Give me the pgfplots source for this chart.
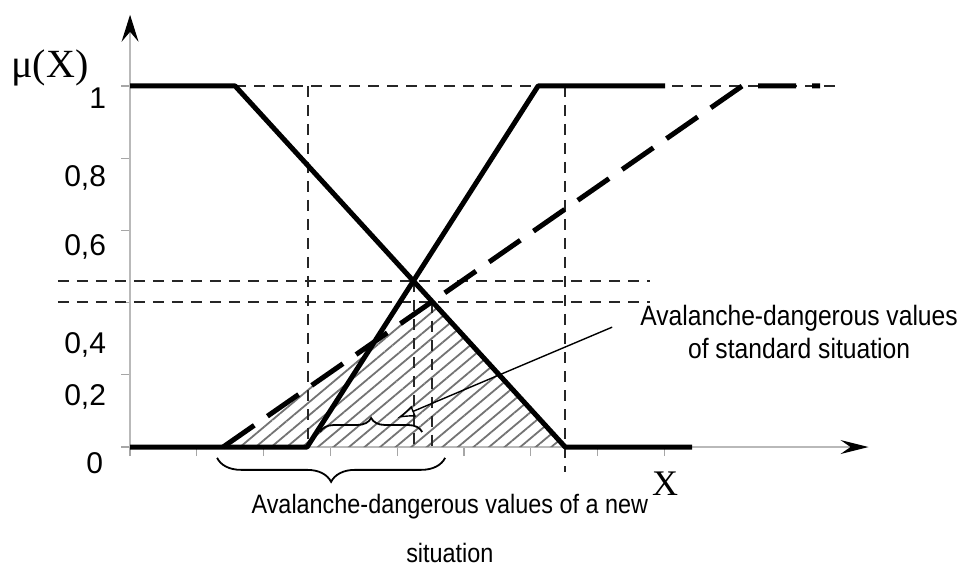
\documentclass[border=0pt]{standalone}
\usepackage{pgfplots}
\pgfplotsset{compat=1.18}
\usepackage{fontspec}
\setmainfont{Liberation Sans}
\newfontfamily\narrowsans[FakeStretch=0.88]{Liberation Sans}
\newfontfamily\serifface{Liberation Serif}
\usetikzlibrary{arrows.meta,patterns.meta,decorations.pathreplacing}
\begin{document}
\begin{tikzpicture}
\begin{axis}[
  x=33.375pt, y=180.5pt,
  xmin=0, xmax=11.06, ymin=0, ymax=1.197,
  axis lines=left,
  axis line style={gray!55, line width=0.6pt},
  x axis line style={-{Stealth[length=14pt,width=7pt,inset=5pt,color=black]}},
  y axis line style={-{Stealth[length=13.5pt,width=8.5pt,inset=5pt,color=black]}},
  xtick={0,1,...,8}, ytick={0,0.2,0.4,0.6,0.8,1},
  xticklabels={}, yticklabels={},
  tick style={gray!70, line width=0.6pt},
  tick align=outside, major tick length=4.5pt,
  clip=false,
]
% hatched region
\addplot[draw=none, pattern={Lines[angle=40,distance=5pt,line width=0.9pt]}, pattern color=black!55]
  coordinates {(1.393,0) (4.525,0.4028) (6.517,0)} \closedcycle;
% thin dashed guide lines
\addplot[black!85, line width=1pt, dash pattern=on 5.5pt off 4pt] coordinates {(1.573,1) (10.59,1)};
\addplot[black!85, line width=1pt, dash pattern=on 5.5pt off 4pt] coordinates {(-1.08,0.46) (7.79,0.46)};
\addplot[black!85, line width=1pt, dash pattern=on 5.5pt off 4pt] coordinates {(-1.08,0.403) (7.79,0.403)};
\addplot[black!85, line width=1pt, dash pattern=on 5.5pt off 4pt] coordinates {(2.667,1) (2.667,0)};
\addplot[black!85, line width=1pt, dash pattern=on 5.5pt off 4pt] coordinates {(4.25,0.46) (4.25,0)};
\addplot[black!85, line width=1pt, dash pattern=on 5.5pt off 4pt] coordinates {(4.525,0.403) (4.525,-0.01)};
\addplot[black!85, line width=1pt, dash pattern=on 5.5pt off 4pt] coordinates {(6.517,1) (6.517,-0.07)};
% membership functions
\addplot[black, line width=2.5pt, line join=round] coordinates {(0,1) (1.573,1) (6.517,0) (8.42,0)};
\addplot[black, line width=2.5pt, line join=round] coordinates {(0,0) (2.652,0) (6.112,1) (8.015,1)};
\addplot[black, line width=2.5pt, dash pattern=on 19pt off 8pt] coordinates {(1.393,0) (9.169,1) (10.337,1)};
% small brace and arrow
\draw[decorate, decoration={brace, amplitude=7pt}, line width=0.9pt] (axis cs:2.846,0.0416) -- (axis cs:4.375,0.0416);
\draw[line width=0.7pt, -{Latex[open,length=9pt,width=6pt]}] (axis cs:7.221,0.332) -- (axis cs:4.0,0.080);
% big brace
\draw[decorate, decoration={brace, mirror, amplitude=12pt}, line width=0.9pt] (axis cs:1.303,-0.03) -- (axis cs:4.719,-0.03);
% texts
\node[font=\fontsize{14}{16}\narrowsans] at (axis cs:10.02,0.357) {Avalanche-dangerous values};
\node[font=\fontsize{14}{16}\narrowsans] at (axis cs:10.02,0.274) {of standard situation};
\node[font=\fontsize{13.3}{16}\narrowsans] at (axis cs:4.79,-0.166) {Avalanche-dangerous values of a new};
\node[font=\fontsize{13.3}{16}\narrowsans] at (axis cs:4.79,-0.294) {situation};
\node[font=\fontsize{20}{22}\serifface] at (axis cs:-1.199,1.05) {μ(X)};
\node[font=\fontsize{18}{20}\serifface] at (axis cs:8.015,-0.1025) {X};
% y labels
\node[anchor=east, font=\fontsize{15}{17}\selectfont] at (axis cs:-0.255,0.967) {1};
\node[anchor=east, font=\fontsize{15}{17}\selectfont] at (axis cs:-0.255,0.745) {0,8};
\node[anchor=east, font=\fontsize{15}{17}\selectfont] at (axis cs:-0.255,0.554) {0,6};
\node[anchor=east, font=\fontsize{15}{17}\selectfont] at (axis cs:-0.255,0.283) {0,4};
\node[anchor=east, font=\fontsize{15}{17}\selectfont] at (axis cs:-0.255,0.139) {0,2};
\node[anchor=east, font=\fontsize{15}{17}\selectfont] at (axis cs:-0.3,-0.044) {0};
\coordinate (BL) at (axis cs:-1.948,-0.341);
\coordinate (TR) at (axis cs:12.61,1.238);
\end{axis}
\pgfresetboundingbox
\path (BL) rectangle (TR);
\end{tikzpicture}
\end{document}
